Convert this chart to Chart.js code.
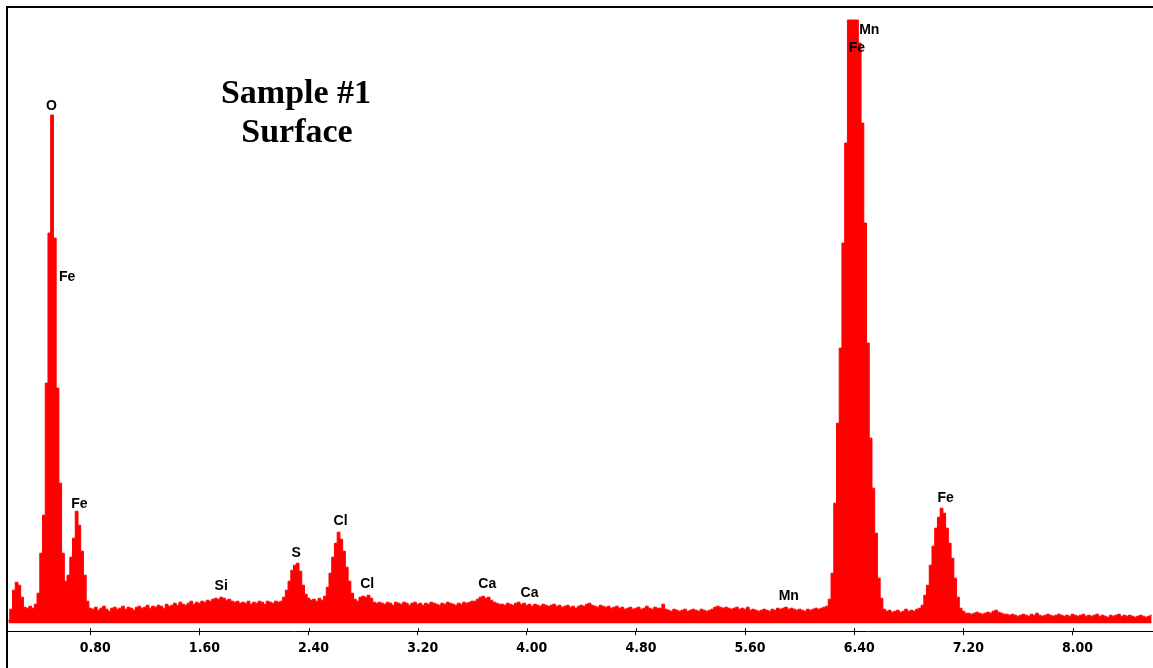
<!DOCTYPE html>
<html>
<head>
<meta charset="utf-8">
<title>Sample #1 Surface</title>
<script src="https://cdn.jsdelivr.net/npm/chart.js@4.4.0/dist/chart.umd.min.js"></script>
<style>
html, body { margin:0; padding:0; background:#fff; overflow:hidden; }
#chartCanvas { display:block; }
</style>
</head>
<body>
<canvas id="chartCanvas" width="1153" height="668"></canvas>
<script>
// spectrum channels: energy of first channel and channel width, keV
const energyStart = 0.20;
const energyStep = 0.02;

// counts per channel
const counts = [
    15,70,165,205,190,130,80,75,85,75,
    95,150,350,540,1200,1950,2540,1925,1175,700,
    350,210,240,330,425,560,490,360,240,110,
    75,70,80,65,75,85,70,60,75,80,
    70,75,85,70,80,75,65,80,85,75,
    80,90,75,85,80,90,85,75,95,85,
    90,100,90,105,95,90,100,110,95,105,
    100,110,105,115,110,120,125,120,130,125,
    115,120,110,105,110,100,105,100,110,95,
    105,100,110,105,95,110,105,100,110,105,
    110,130,165,210,265,290,300,260,190,145,
    125,115,120,110,125,115,135,180,250,330,
    400,455,420,360,280,210,150,120,110,130,
    135,130,140,125,105,100,105,100,95,105,
    100,90,105,100,95,105,100,90,100,105,
    95,100,90,100,95,105,100,95,90,100,
    95,105,100,95,90,100,95,105,100,105,
    110,110,120,130,135,125,130,115,105,100,
    95,95,90,100,95,90,100,105,95,100,
    90,95,85,95,90,85,95,90,85,90,
    95,85,90,80,85,90,80,85,75,85,
    90,85,95,100,90,85,80,90,85,80,
    85,75,80,85,75,80,70,75,80,70,
    75,80,70,75,85,75,70,80,75,75,
    95,70,65,60,70,65,60,65,70,60,
    65,70,65,60,70,65,60,65,70,80,
    85,80,75,80,75,70,75,80,70,75,
    70,80,65,70,65,60,65,70,65,60,
    70,65,75,70,75,80,70,75,70,65,
    70,65,60,70,65,70,75,70,75,80,
    85,120,250,600,1000,1375,1900,2400,3015,3015,
    3015,3015,2900,2500,2000,1400,925,675,450,225,
    125,70,60,65,55,60,65,55,60,70,
    60,65,60,70,75,90,140,190,290,385,
    475,530,575,550,475,400,325,225,130,75,
    60,50,50,45,50,55,50,45,50,55,
    50,60,65,55,50,45,45,40,45,40,
    35,40,45,40,35,45,40,50,40,35,
    40,45,40,35,40,45,40,35,40,35,
    45,40,35,40,45,35,40,35,40,45,
    35,40,35,30,40,35,40,45,35,40,
    35,40,35,30,35,40,35,30,35,40
];

const tickValues = [0.8, 1.6, 2.4, 3.2, 4.0, 4.8, 5.6, 6.4, 7.2, 8.0];

// element lines marked on the spectrum
const peakNames = ['O', 'Fe', 'Fe', 'Si', 'S', 'Cl', 'Cl', 'Ca', 'Ca', 'Mn', 'Fe', 'Mn', 'Fe'];
const peakEnergies = [0.516, 0.63, 0.72, 1.76, 2.31, 2.635, 2.83, 3.71, 4.02, 5.92, 6.42, 6.51, 7.07];
const peakLabelCounts = [2585, 1730, 595, 185, 350, 510, 195, 195, 150, 135, 2872, 2965, 627];

const titleLines = ['Sample #1', 'Surface'];

const points = counts.map((c, i) => ({x: energyStart + i * energyStep, y: c}));

const spectrumDecor = {
    id: 'spectrumDecor',
    afterDraw(chart){
        const ctx = chart.ctx;
        const xs = chart.scales.x;
        const ys = chart.scales.y;
        ctx.save();
        // frame
        ctx.fillStyle = '#000';
        ctx.fillRect(6, 6, chart.width - 6, 2);
        ctx.fillRect(6, 6, 2, chart.height - 6);
        // tick stubs above the axis line
        tickValues.forEach(v => {
            ctx.fillRect(Math.round(xs.getPixelForValue(v)), xs.top - 3, 1, 3);
        });
        // peak labels
        ctx.font = 'bold 14px "Liberation Sans", Arial, sans-serif';
        ctx.textAlign = 'center';
        ctx.textBaseline = 'middle';
        peakNames.forEach((name, i) => {
            ctx.fillText(name, xs.getPixelForValue(peakEnergies[i]), ys.getPixelForValue(peakLabelCounts[i]));
        });
        // title
        ctx.font = 'bold 34px "Liberation Serif", "Times New Roman", serif';
        ctx.textBaseline = 'alphabetic';
        ctx.fillText(titleLines[0], 296, 103);
        ctx.fillText(titleLines[1], 297, 142);
        ctx.restore();
    }
};

new Chart(document.getElementById('chartCanvas').getContext('2d'), {
    type: 'line',
    data: {
        datasets: [{
            label: 'Counts',
            data: points,
            fill: 'origin',
            stepped: 'middle',
            backgroundColor: '#ff0000',
            borderColor: '#ff0000',
            borderWidth: 1,
            pointRadius: 0
        }]
    },
    options: {
        responsive: false,
        animation: false,
        devicePixelRatio: 1,
        layout: { padding: { left: 8, top: 8, right: 0, bottom: 6 } },
        plugins: { legend: { display: false }, tooltip: { enabled: false } },
        scales: {
            x: {
                type: 'linear',
                min: 0.197,
                max: 8.59,
                afterBuildTicks: scale => { scale.ticks = tickValues.map(v => ({value: v})); },
                ticks: {
                    callback: v => v.toFixed(2),
                    color: '#000',
                    font: { family: '"DejaVu Sans", sans-serif', size: 14, weight: 'bold condensed' },
                    padding: 5,
                    labelOffset: 5,
                    maxRotation: 0,
                    autoSkip: false
                },
                grid: { drawOnChartArea: false, drawTicks: true, tickLength: 4, color: '#000', tickColor: '#000' },
                border: { display: true, color: '#000', width: 1 }
            },
            y: { display: false, min: -40, max: 3075 }
        }
    },
    plugins: [spectrumDecor]
});
</script>
</body>
</html>
